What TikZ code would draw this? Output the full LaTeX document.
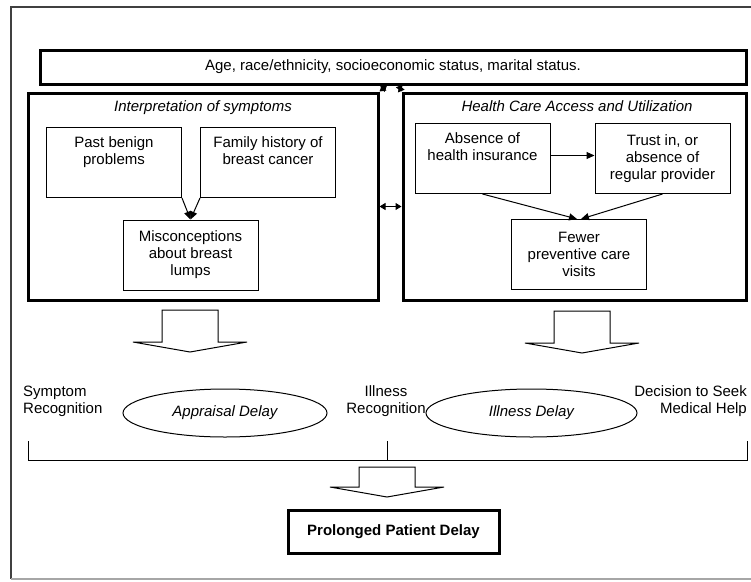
\documentclass[tikz,border=0pt]{standalone}
\usepackage{fontspec}
\setmainfont{Liberation Sans}
\usetikzlibrary{arrows.meta,positioning,shapes.geometric}
\newcommand\figfont{\fontsize{15}{17}\selectfont}

\begin{document}
\begin{tikzpicture}[
  x=1pt, y=-1pt, font=\figfont,
  panel/.style={rectangle, draw, line width=3pt},
  inbox/.style={rectangle, draw, line width=1pt, minimum width=135pt, align=center, inner xsep=2pt},
  topal/.style={inbox, inner ysep=6pt, text height=31pt, text depth=27pt},
  midal/.style={inbox, minimum height=70pt},
  ttl/.style={font=\figfont\itshape},
  oval/.style={ellipse, draw, line width=1pt, font=\figfont\itshape},
  lbl/.style={inner sep=0pt},
  arr/.style={-{Triangle[length=8pt,width=7pt]}, line width=1pt},
  darr/.style={{Triangle[length=6pt,width=7pt]}-{Triangle[length=6pt,width=7pt]}, line width=1pt},
  blk/.style={draw, line width=1pt, fill=white}
]
  \useasboundingbox (0,0) rectangle (751,581);

  % Frame
  \draw[black!75, line width=1.5pt] (760,7) -- (11,7) -- (11,579);
  \draw[gray!70, line width=1.2pt] (11,579) -- (760,579);

  % Demographics
  \node[panel, minimum width=706pt, minimum height=34pt] (demo) at (393,67) {Age, race/ethnicity, socioeconomic status, marital status.};

  % Panels
  \node[panel, minimum width=350pt, minimum height=207pt] (interp) at (203,196.5) {};
  \node[panel, minimum width=343pt, minimum height=207pt] (access) at (574.5,196.5) {};
  \node[ttl] (interpttl) at (203,108) {Interpretation of symptoms};
  \node[ttl] (accessttl) at (577,106) {Health Care Access and Utilization};

  % Interpretation of symptoms
  \node[topal, anchor=north] (past) at (114,127) {Past benign\\problems};
  \node[topal, right=18pt of past] (family) {Family history of\\breast cancer};
  \node[midal] (misc) at (190.5,255) {Misconceptions\\about breast\\lumps};

  % Health care access
  \node[topal, anchor=north] (absence) at (482.5,123) {Absence of\\health insurance};
  \node[midal, right=44pt of absence] (trust) {Trust in, or\\absence of\\regular provider};
  \node[midal] (fewer) at (579,254.5) {Fewer\\preventive care\\visits};

  % Arrows
  \draw[arr] (past.south east) -- (misc.north);
  \draw[arr] (family.south west) -- (misc.north);
  \draw[arr] ([yshift=3pt]absence.east) -- ([yshift=3pt]trust.west);
  \draw[arr] (absence.south) -- ([xshift=-2pt]fewer.north);
  \draw[arr] (trust.south) -- ([xshift=2pt]fewer.north);
  \draw[darr] ([yshift=-10pt]interp.east) -- ([yshift=-10pt]access.west);
  \draw[darr] ([xshift=-6pt]demo.south) -- (interp.north east);
  \draw[darr] ([xshift=6pt]demo.south) -- (access.north west);

  % Block arrows
  \foreach \bx/\by/\bl in {190/310/32, 582/311/32, 387/467/20}
    \draw[blk] (\bx-28,\by) -- (\bx+28,\by) -- (\bx+28,\by+\bl) -- (\bx+57,\by+\bl)
      -- (\bx,\by+\bl+10) -- (\bx-57,\by+\bl) -- (\bx-28,\by+\bl) -- cycle;

  % Timeline
  \node[lbl, align=left, anchor=west] (symrec) at (23,401) {Symptom\\Recognition};
  \node[lbl, align=center] (illrec) at (386,401) {Illness\\Recognition};
  \node[lbl, align=right, anchor=east] (decide) at (747,401) {Decision to Seek\\Medical Help};
  \node[oval, minimum width=204pt, minimum height=48pt] (appraisal) at (225,413) {Appraisal Delay};
  \node[oval, minimum width=211pt, minimum height=48pt] (illdelay) at (531.5,413) {Illness Delay};
  \coordinate (t0) at (28,460);
  \coordinate (t1) at (387,460);
  \coordinate (t2) at (747,460);
  \draw[line width=1pt] (28,441) -- (t0) -- (t2) -- (747,441);
  \draw[line width=1pt] (387,441) -- (t1);

  % Outcome
  \node[panel, font=\figfont\bfseries, minimum width=211pt, minimum height=43pt] (prolonged) at (393.5,531.5) {Prolonged Patient Delay};
\end{tikzpicture}
\end{document}
